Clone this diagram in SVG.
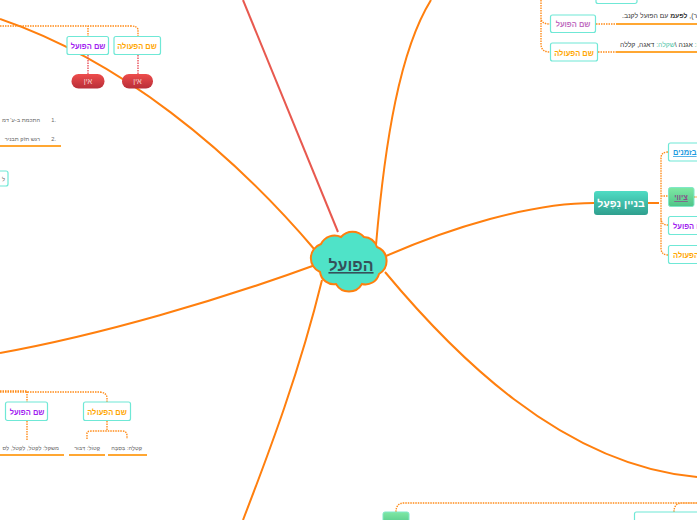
<svg xmlns="http://www.w3.org/2000/svg" width="697" height="520" viewBox="0 0 697 520">
<defs>
<linearGradient id="red" x1="0" y1="0" x2="0" y2="1"><stop offset="0" stop-color="#ee4c4c"/><stop offset="1" stop-color="#b82e38"/></linearGradient>
<linearGradient id="teal" x1="0" y1="0" x2="0" y2="1"><stop offset="0" stop-color="#4fdcc4"/><stop offset="1" stop-color="#2f9f8e"/></linearGradient>
<linearGradient id="green" x1="0" y1="0" x2="0" y2="1"><stop offset="0" stop-color="#7fe8a4"/><stop offset="1" stop-color="#4fc488"/></linearGradient>
</defs>
<style>
text{font-family:"Liberation Sans","Noto Sans",sans-serif;direction:rtl}
.m{fill:none;stroke:#ff7f0e;stroke-width:2}
.d{fill:none;stroke:#ff8c1a;stroke-width:1.4;stroke-dasharray:1.5 1}
.r{fill:none;stroke:#e8505b;stroke-width:1.4;stroke-dasharray:1.5 1}
.b{fill:#fff;stroke:#6fe8d6;stroke-width:1.2}
.u{stroke:#ffa733;stroke-width:1.8;fill:none}
.o{fill:#ffa600;font-size:7.500px;font-weight:700}
.p{fill:#a020f0;font-size:7.500px;font-weight:700}
.g{fill:#666;font-size:5.700px}
.k{fill:#333;font-size:6.800px}
.n{direction:ltr}
</style>
<g id="connectors">
<path d="M315 250C230 150 120 60 0 19" class="m"/>
<path d="M338 232L243 0" fill="none" stroke="#e8594f" stroke-width="2"/>
<path d="M376 245C385 140 400 50 431 0" class="m"/>
<path d="M386 256C450 228 530 203 594 203" class="m"/>
<path d="M385 272C450 350 560 465 697 477" class="m"/>
<path d="M318 264C220 300 100 335 0 353" class="m"/>
<path d="M322 280C300 370 270 450 243 520" class="m"/>
<path d="M648 203H659" class="m"/>
<path d="M668 152Q661 152 661 158V248Q661 255 668 255M661 196H668M661 218Q661 225 668 225M694 197H697" class="d"/>
<path d="M0 26H130Q138 26 138 30V36M0 26H88V36" class="d"/>
<path d="M138 55V74M88 55V74" class="r"/>
<path d="M0 392H100Q107 393 107 398V402M0 391H27V402M107 421V430M87 439V433Q87 431 92 431H122Q127 431 127 436V439M27 421V440" class="d"/>
<path d="M396 512Q396 503 404 503H697M674 512Q674 503 682 503H697" class="d"/>
<path d="M541 0V18Q541 24 550 24M541 18V44Q541 52 550 52M596 24H616M598 52H616" class="d"/>
<path d="M616 24H697M616 52H697" class="u"/>
<path d="M0 146H61M0 455H64M69 455H105M108 455H147" class="u"/>
</g>
<g id="node-center">
<path d="M321 244A15 15 0 0 1 341 237A15 15 0 0 1 364 237A14 14 0 0 1 377 247A15 15 0 0 1 379 274A14 14 0 0 1 362 284A15 15 0 0 1 336 284A14 14 0 0 1 320 272A15 15 0 0 1 321 244Z" fill="#4fe3c8" stroke="#ff7f0e" stroke-width="2"/>
<text x="351" y="271" font-size="16" font-weight="700" fill="#35505a" text-anchor="middle" text-decoration="underline">הפועל</text>
</g>
<g id="node-shem-hapeula-top">
<rect x="114" y="36.500" width="46.500" height="18" rx="2" class="b"/>
<text x="137" y="49" class="o" text-anchor="middle">שם הפעולה</text>
</g>
<g id="node-shem-hapoal-top">
<rect x="67" y="36.500" width="41.500" height="18" rx="2" class="b"/>
<text x="88" y="49" class="p" text-anchor="middle">שם הפועל</text>
</g>
<g id="node-ein-1">
<rect x="122" y="74" width="31" height="14.500" rx="7" fill="url(#red)"/>
<text x="137.500" y="84" font-size="7.500" fill="#f5d0d0" text-anchor="middle">אין</text>
</g>
<g id="node-ein-2">
<rect x="71.500" y="74" width="33" height="14.500" rx="7" fill="url(#red)"/>
<text x="88" y="84" font-size="7.500" fill="#f5d0d0" text-anchor="middle">אין</text>
</g>
<g id="node-list">
<text x="56" y="122" class="g n" text-anchor="end">1.</text>
<text x="40" y="122" class="g">התכמת ב-ע' דמ</text>
<text x="56" y="141" class="g n" text-anchor="end">2.</text>
<text x="40" y="141" class="g">רגש חזק תבניר</text>
</g>
<g id="node-left-small">
<rect x="-20" y="171" width="28" height="15" rx="2" class="b"/>
<text x="5" y="181" class="g">ל</text>
</g>
<g id="node-top-right-stub">
<rect x="596" y="-10" width="41" height="13.500" rx="2" class="b"/>
</g>
<g id="node-shem-hapoal-tr">
<rect x="550.500" y="15" width="45" height="17.500" rx="2" class="b"/>
<text x="573" y="27" font-size="7.500" font-weight="700" fill="#c06cc0" text-anchor="middle">שם הפועל</text>
</g>
<g id="node-shem-hapeula-tr">
<rect x="550.500" y="43" width="47" height="18" rx="2" class="b"/>
<text x="574" y="55.500" class="o" text-anchor="middle">שם הפעולה</text>
</g>
<g id="node-text-tr">
<text x="622" y="18" class="k" text-anchor="end">טפר), <tspan font-weight="700">לפעמ</tspan> עם הפועל לקנב.</text>
<text x="620" y="47" class="k" text-anchor="end"><tspan fill="#4fc4a8">שקלה:</tspan> אגנה \<tspan fill="#4fc4a8">שקלה:</tspan> דאגה, קללה</text>
</g>
<g id="node-nifal">
<rect x="594" y="191" width="54" height="24" rx="3" fill="url(#teal)"/>
<text x="621" y="207" font-size="10.500" font-weight="700" fill="#fff" text-anchor="middle">בניין נִפְעַל</text>
</g>
<g id="node-bazmanim">
<rect x="668.500" y="143" width="40" height="18" rx="2" class="b"/>
<text x="673" y="155" font-size="7.500" font-weight="700" fill="#1e9be0" text-decoration="underline" text-anchor="end">בזמנים</text>
</g>
<g id="node-tzivui">
<rect x="668.500" y="187.500" width="25.500" height="19" rx="2" fill="url(#green)" stroke="#7fe8c8"/>
<text x="681" y="200" font-size="7.500" font-weight="700" fill="#8a4a8a" text-decoration="underline" text-anchor="middle">ציווי</text>
</g>
<g id="node-shem-hapoal-r">
<rect x="668.500" y="216.500" width="40" height="18" rx="2" class="b"/>
<text x="673" y="229" class="p" text-anchor="end">שם הפועל</text>
</g>
<g id="node-shem-hapeula-r">
<rect x="668.500" y="245.500" width="40" height="18" rx="2" class="b"/>
<text x="673" y="258" class="o" text-anchor="end">שם הפעולה</text>
</g>
<g id="node-shem-hapeula-bl">
<rect x="83.500" y="402" width="47" height="18.500" rx="2" class="b"/>
<text x="107" y="415" class="o" text-anchor="middle">שם הפעולה</text>
</g>
<g id="node-shem-hapoal-bl">
<rect x="5.500" y="402" width="42" height="18.500" rx="2" class="b"/>
<text x="27" y="415" class="p" text-anchor="middle">שם הפועל</text>
</g>
<g id="node-bl-texts">
<text x="142" y="450" class="g">קְטֶלָה: בִּסְבָּה</text>
<text x="100" y="450" class="g">קָטוֹל: דִּבּוּר</text>
<text x="59" y="450" class="g">משקל: לְקְטֹל, לְקְטֹל, לְס</text>
</g>
<g id="node-bottom-green">
<rect x="383" y="512" width="26" height="14" rx="2" fill="url(#green)" stroke="#7fe8c8"/>
</g>
<g id="node-bottom-right">
<rect x="634.500" y="512" width="70" height="14" rx="2" class="b"/>
</g>
</svg>
